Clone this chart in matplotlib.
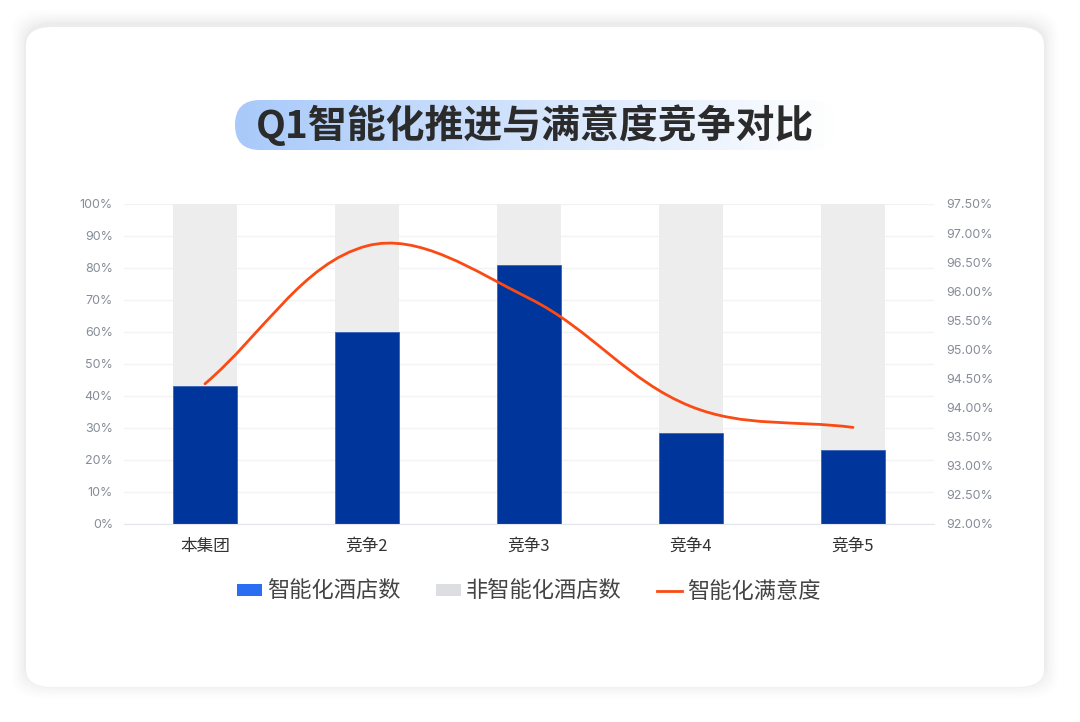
import numpy as np
import matplotlib.pyplot as plt
from matplotlib.patches import FancyBboxPatch, Patch
from matplotlib.lines import Line2D
from matplotlib.path import Path
from matplotlib.patches import PathPatch

plt.rcParams['font.family'] = ['Noto Sans CJK SC', 'DejaVu Sans']

# data
categories = ['本集团', '竞争2', '竞争3', '竞争4', '竞争5']
smart_share = [43, 60, 81, 28.5, 23]          # % of hotels that are smart
non_smart_share = [100 - v for v in smart_share]
satisfaction = [94.41, 96.78, 95.88, 94.02, 93.66]  # %
left_ticks = list(range(0, 101, 10))
right_ticks = [92.0, 92.5, 93.0, 93.5, 94.0, 94.5, 95.0, 95.5, 96.0, 96.5, 97.0, 97.5]

W, H = 1080, 722
fig = plt.figure(figsize=(W / 100, H / 100), dpi=100)
fig.patch.set_facecolor('white')

# card with soft shadow
for i, a in enumerate([0.008, 0.009, 0.011, 0.013, 0.015, 0.018]):
    g = 14 - i * 2.4
    sh = FancyBboxPatch(((26 - g) / W, (H - 687 - g + 3) / H), (1018 + 2 * g) / W, (660 + 2 * g) / H,
                        boxstyle='round,pad=0,rounding_size=0.03', transform=fig.transFigure,
                        facecolor='black', edgecolor='none', alpha=a, zorder=-3)
    fig.patches.append(sh)
card = FancyBboxPatch((26 / W, (H - 687) / H), 1018 / W, 660 / H,
                      boxstyle='round,pad=0,rounding_size=0.025', transform=fig.transFigure,
                      facecolor='white', edgecolor='none', zorder=-2)
fig.patches.append(card)

# title pill with gradient
tax = fig.add_axes([235 / W, (H - 150) / H, 600 / W, 50 / H])
tax.set_xlim(0, 600)
tax.set_ylim(0, 50)
tax.axis('off')
grad = np.linspace(0, 1, 256).reshape(1, -1)
c0 = np.array([0.66, 0.79, 0.98])
c1 = np.array([1.0, 1.0, 1.0])
img = c0[None, None, :] * (1 - grad[..., None]) + c1[None, None, :] * grad[..., None]
im = tax.imshow(img, extent=[0, 600, 0, 50], aspect='auto')
pill = FancyBboxPatch((0, 0), 600, 50, boxstyle='round,pad=0,rounding_size=25',
                      facecolor='none', edgecolor='none', transform=tax.transData)
tax.add_patch(pill)
im.set_clip_path(pill)
fig.text(535 / W, (H - 125) / H, 'Q1智能化推进与满意度竞争对比', ha='center', va='center',
         fontsize=28, fontweight='bold', color='#2b2b2b')

# main axes
ax = fig.add_axes([124 / W, (H - 524) / H, 810 / W, 320 / H])
x = np.arange(len(categories))
ax.bar(x, smart_share, width=0.4, color='#00369b', edgecolor='#3a62b5', linewidth=0.6, zorder=2)
ax.bar(x, non_smart_share, width=0.4, bottom=smart_share, color='#ededed', zorder=2)
ax.set_xlim(-0.5, len(categories) - 0.5)
ax.set_ylim(0, 100)
ax.set_yticks(left_ticks)
ax.set_yticklabels([f'{t}%' for t in left_ticks], family=['Inter', 'DejaVu Sans'])
ax.set_xticks(x)
ax.set_xticklabels(categories, fontsize=12, color='#333333')
ax.tick_params(axis='y', length=0, labelsize=9, labelcolor='#878c98', pad=8)
ax.tick_params(axis='x', length=0, pad=10)
ax.grid(axis='y', color='#f2f3f5', linewidth=1, zorder=0)
for s in ['top', 'left', 'right']:
    ax.spines[s].set_visible(False)
ax.spines['bottom'].set_color('#e3e6eb')
ax.set_axisbelow(True)

ax2 = ax.twinx()
ax2.set_ylim(92, 97.5)
ax2.set_yticks(right_ticks)
ax2.set_yticklabels([f'{t:.2f}%' for t in right_ticks], family=['Inter', 'DejaVu Sans'])
ax2.tick_params(axis='y', length=0, labelsize=9, labelcolor='#878c98', pad=9)
for s in ax2.spines.values():
    s.set_visible(False)

# smoothed line (bezier through the data points, in pixel space)
pts = ax2.transData.transform(np.column_stack([x, satisfaction]))
n = len(pts)
smooth = 0.36
cp_before, cp_after = [], []
for i in range(n):
    p = pts[i]
    prev = pts[i - 1] if i > 0 else p
    nxt = pts[i + 1] if i < n - 1 else p
    v = nxt - prev
    lp = np.hypot(*(p - prev))
    ln = np.hypot(*(nxt - p))
    r = ln / (lp + ln) if lp + ln > 0 else 0.5
    cp_before.append(p - v * smooth * (1 - r))
    cp_after.append(p + v * smooth * r)
verts = [pts[0]]
codes = [Path.MOVETO]
for i in range(n - 1):
    verts += [cp_after[i], cp_before[i + 1], pts[i + 1]]
    codes += [Path.CURVE4] * 3
verts = ax2.transData.inverted().transform(np.array(verts))
ax2.add_patch(PathPatch(Path(verts, codes), facecolor='none', edgecolor='#fc4a14',
                        linewidth=2, zorder=3, capstyle='round'))

# legend
handles = [Patch(facecolor='#2a6ef2', edgecolor='none'),
           Patch(facecolor='#dcdee2', edgecolor='none'),
           Line2D([0], [0], color='#fc4a14', linewidth=2)]
labels = ['智能化酒店数', '非智能化酒店数', '智能化满意度']
leg = fig.legend(handles, labels, loc='center', bbox_to_anchor=(529 / W, (H - 591) / H),
                 ncol=3, frameon=False, fontsize=16, handlelength=1.1, handleheight=0.45,
                 handletextpad=0.25, columnspacing=1.6, labelcolor='#444444')

fig.savefig('out.png', dpi=100, facecolor=fig.get_facecolor())
